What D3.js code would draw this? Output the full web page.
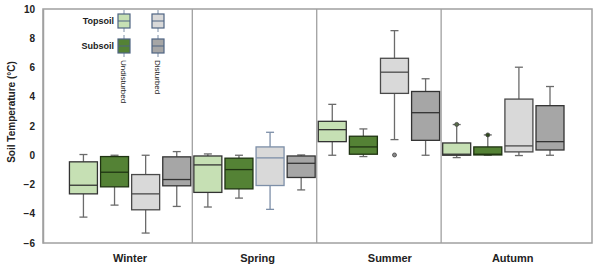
<!DOCTYPE html>
<html>
<head>
<meta charset="utf-8">
<script src="https://cdn.jsdelivr.net/npm/d3@7"></script>
<style>
  body { margin: 0; background: #fff; }
  text { font-family: "Liberation Sans", Arial, sans-serif; }
</style>
</head>
<body>
<script>
// seasons and treatments
var seasons = ["Winter", "Spring", "Summer", "Autumn"];
var seriesNames = ["Undisturbed Topsoil", "Undisturbed Subsoil", "Disturbed Topsoil", "Disturbed Subsoil"];
var yTicks = [-6, -4, -2, 0, 2, 4, 6, 8, 10];

// [low whisker, q1, median, q3, high whisker] per season
var undisturbedTopsoil = [
    [-4.23, -2.64, -2.05, -0.45, 0.05],
    [-3.54, -2.54, -0.66, -0.05, 0.09],
    [0.0, 0.93, 1.75, 2.32, 3.48],
    [-0.16, 0.0, 0.07, 0.84, 2.1]
];
var undisturbedSubsoil = [
    [-3.41, -2.16, -1.16, -0.09, 0.0],
    [-2.93, -2.3, -0.98, -0.2, 0.0],
    [-0.09, 0.07, 0.57, 1.3, 1.8],
    [0.0, 0.02, 0.07, 0.57, 1.39]
];
var disturbedTopsoil = [
    [-5.32, -3.73, -2.64, -1.32, 0.0],
    [-3.7, -2.07, -0.18, 0.57, 1.57],
    [1.07, 4.23, 5.68, 6.63, 8.52],
    [-0.02, 0.23, 0.64, 3.84, 6.02]
];
var disturbedSubsoil = [
    [-3.5, -2.09, -1.66, -0.11, 0.25],
    [-2.37, -1.52, -0.55, -0.05, 0.02],
    [0.0, 1.02, 2.91, 4.36, 5.23],
    [0.0, 0.36, 0.93, 3.39, 4.7]
];
// outliers: series index, season index, value
var outliers = [
    [2, 2, 0.02],
    [0, 3, 2.11],
    [1, 3, 1.39]
];
// where the season names sit, in box-index units
var seasonLabelPos = [1.5, 5.6, 9.85, 13.8];

var allSeries = [undisturbedTopsoil, undisturbedSubsoil, disturbedTopsoil, disturbedSubsoil];
var fills = ["#c6e0b4", "#548235", "#d9d9d9", "#a6a6a6"];
var strokes = ["#333333", "#1f3312", "#4a4a4a", "#333333"];
var outlierFills = ["#5a6e4c", "#2f4a1c", "#888888", "#666666"];

var w = 600, h = 271;
var plotL = 43, plotR = 592, plotT = 9, plotB = 243;

var svg = d3.select("body").append("svg")
    .attr("width", w)
    .attr("height", h);

var xScale = d3.scaleLinear().domain([-1.3, 16.35]).range([plotL, plotR]);
var yScale = d3.scaleLinear().domain([-6, 10]).range([plotB, plotT]);
var step = xScale(1) - xScale(0);
var boxW = step * 0.9;
var capW = 8;

// frame + season separators
var frameColor = "#a0a0a0";
svg.append("rect")
    .attr("x", plotL).attr("y", plotT)
    .attr("width", plotR - plotL).attr("height", plotB - plotT)
    .attr("fill", "none").attr("stroke", frameColor).attr("stroke-width", 1.5);
[3.5, 7.5, 11.5].forEach(function(s) {
    svg.append("line")
        .attr("x1", xScale(s)).attr("x2", xScale(s))
        .attr("y1", plotT).attr("y2", plotB)
        .attr("stroke", frameColor).attr("stroke-width", 1.3);
});

// y axis
var yAxis = d3.axisLeft(yScale).tickValues(yTicks).tickSize(0).tickPadding(8);
var gy = svg.append("g")
    .attr("transform", "translate(" + plotL + ",0)")
    .call(yAxis);
gy.select(".domain").attr("stroke", frameColor).attr("stroke-width", 1.5);
gy.selectAll("text")
    .attr("font-family", "Liberation Sans, Arial, sans-serif")
    .attr("font-size", "10px")
    .attr("font-weight", "bold")
    .attr("fill", "#222");

svg.append("text")
    .attr("transform", "translate(15,112) rotate(-90)")
    .attr("text-anchor", "middle")
    .attr("font-size", "10px")
    .attr("font-weight", "bold")
    .attr("fill", "#222")
    .text("Soil Temperature (\u00B0C)");

// season labels
seasons.forEach(function(s, i) {
    svg.append("text")
        .attr("x", xScale(seasonLabelPos[i]))
        .attr("y", 262)
        .attr("text-anchor", "middle")
        .attr("font-size", "11px")
        .attr("font-weight", "bold")
        .attr("fill", "#222")
        .text(s);
});

// boxes
var whiskerColor = "#6b6b6b";
seasons.forEach(function(season, si) {
    allSeries.forEach(function(series, k) {
        var d = series[si];
        var idx = si * 4 + k;
        var cx = xScale(idx);
        var stroke = strokes[k];
        var wc = whiskerColor;
        if (si === 1 && k === 2) { stroke = "#7d8fa8"; wc = "#7d8fa8"; }
        var g = svg.append("g");
        // whiskers
        g.append("line").attr("x1", cx).attr("x2", cx)
            .attr("y1", yScale(d[4])).attr("y2", yScale(d[3]))
            .attr("stroke", wc).attr("stroke-width", 1.3);
        g.append("line").attr("x1", cx).attr("x2", cx)
            .attr("y1", yScale(d[1])).attr("y2", yScale(d[0]))
            .attr("stroke", wc).attr("stroke-width", 1.3);
        [d[0], d[4]].forEach(function(v) {
            g.append("line")
                .attr("x1", cx - capW / 2).attr("x2", cx + capW / 2)
                .attr("y1", yScale(v)).attr("y2", yScale(v))
                .attr("stroke", wc).attr("stroke-width", 1.3);
        });
        g.append("rect")
            .attr("x", cx - boxW / 2).attr("y", yScale(d[3]))
            .attr("width", boxW).attr("height", Math.max(1, yScale(d[1]) - yScale(d[3])))
            .attr("fill", fills[k]).attr("stroke", stroke).attr("stroke-width", 1.3);
        g.append("line")
            .attr("x1", cx - boxW / 2).attr("x2", cx + boxW / 2)
            .attr("y1", yScale(d[2])).attr("y2", yScale(d[2]))
            .attr("stroke", stroke).attr("stroke-width", 1.3);
    });
});

outliers.forEach(function(o) {
    var k = o[0];
    svg.append("circle")
        .attr("cx", xScale(o[1] * 4 + k))
        .attr("cy", yScale(o[2]))
        .attr("r", 2)
        .attr("fill", outlierFills[k])
        .attr("stroke", "#444")
        .attr("stroke-width", 0.8);
});

// legend
var legendX = [124, 158];
var legendY = [21, 46];
var legendRows = ["Topsoil", "Subsoil"];
legendRows.forEach(function(r, ri) {
    svg.append("text")
        .attr("x", 114).attr("y", legendY[ri] + 3)
        .attr("text-anchor", "end")
        .attr("font-size", "9px")
        .attr("font-weight", "bold")
        .attr("fill", "#222")
        .text(r);
    legendX.forEach(function(lx, ci) {
        var k = ci * 2 + ri;
        svg.append("line")
            .attr("x1", lx).attr("x2", lx)
            .attr("y1", legendY[ri] - 11).attr("y2", legendY[ri] + 11)
            .attr("stroke", "#7d8fa8").attr("stroke-width", 1);
        svg.append("rect")
            .attr("x", lx - 6).attr("y", legendY[ri] - 7)
            .attr("width", 12).attr("height", 14)
            .attr("fill", fills[k]).attr("stroke", "#4f6483").attr("stroke-width", 1.2);
        svg.append("line")
            .attr("x1", lx - 6).attr("x2", lx + 6)
            .attr("y1", legendY[ri]).attr("y2", legendY[ri])
            .attr("stroke", "#4f6483").attr("stroke-width", 1);
    });
});
["Undisturbed", "Disturbed"].forEach(function(t, i) {
    svg.append("text")
        .attr("transform", "translate(" + (legendX[i] - 3) + ",60) rotate(90)")
        .attr("font-size", "8px")
        .attr("fill", "#222")
        .text(t);
});
</script>
</body>
</html>
